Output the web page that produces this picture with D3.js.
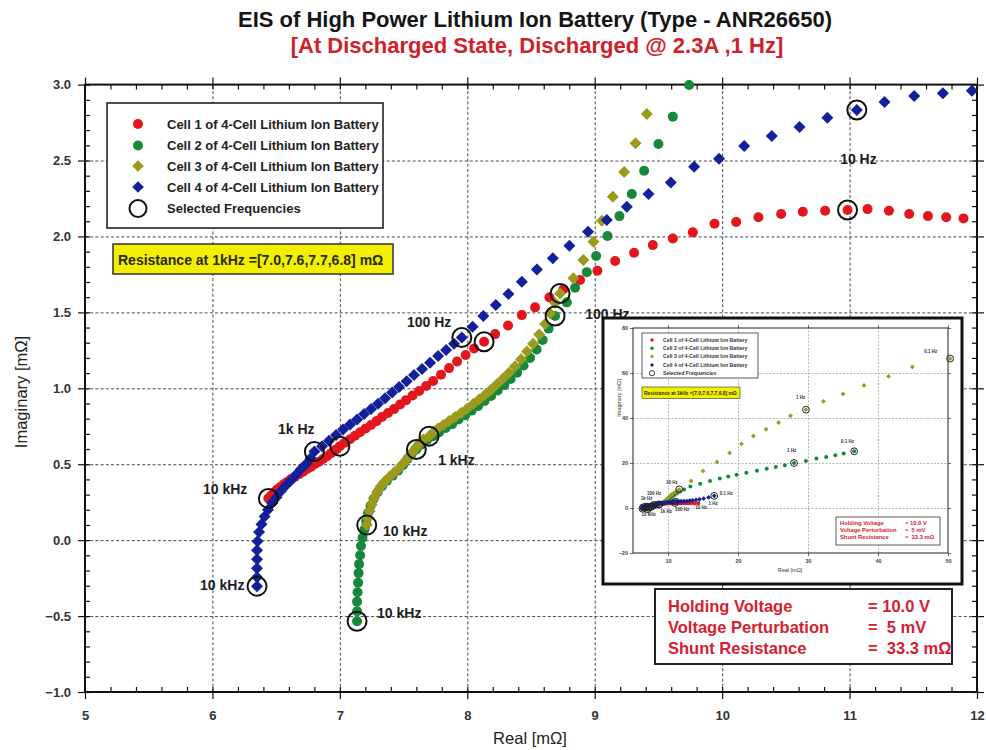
<!DOCTYPE html>
<html>
<head>
<meta charset="utf-8">
<script src="https://cdn.jsdelivr.net/npm/d3@7"></script>
<style>
  html, body { margin: 0; padding: 0; background: #fff; }
  svg { display: block; font-family: "Liberation Sans", Arial, sans-serif; }
</style>
</head>
<body>
<svg id="chart" width="986" height="750"></svg>
<script>
// ---------- data ----------
// Real part of the impedance at 1 kHz for cells 1..4 [mOhm]
const resistance1kHz = [7.0, 7.6, 7.7, 6.8];

const seriesNames = [
  "Cell 1 of 4-Cell Lithium Ion Battery",
  "Cell 2 of 4-Cell Lithium Ion Battery",
  "Cell 3 of 4-Cell Lithium Ion Battery",
  "Cell 4 of 4-Cell Lithium Ion Battery"
];

// Nyquist points [Real, Imaginary] in mOhm, high -> low frequency
const cell1 = [
  [6.439,0.275],[6.460,0.293],[6.484,0.313],[6.507,0.333],[6.535,0.352],[6.562,0.369],[6.589,0.385],
  [6.617,0.402],[6.648,0.418],[6.680,0.435],[6.711,0.451],[6.743,0.468],[6.774,0.484],[6.805,0.501],
  [6.837,0.517],[6.868,0.534],[6.900,0.553],[6.931,0.573],[6.966,0.596],[resistance1kHz[0],0.619],
  [7.041,0.642],[7.080,0.665],[7.119,0.688],[7.159,0.711],[7.202,0.735],[7.245,0.758],[7.288,0.784],
  [7.331,0.811],[7.378,0.837],[7.425,0.863],[7.473,0.893],[7.520,0.922],[7.571,0.952],[7.622,0.982],
  [7.677,1.015],[7.732,1.048],[7.794,1.090],[7.857,1.133],[7.920,1.176],[7.987,1.219],[8.053,1.262],
  [8.132,1.306],[8.218,1.357],[8.320,1.413],[8.428,1.482],[8.532,1.533],[8.645,1.599],[8.754,1.652],
  [8.885,1.713],[9.021,1.774],[9.160,1.838],[9.309,1.893],[9.456,1.943],[9.613,1.987],[9.770,2.027],
  [9.940,2.084],[10.110,2.095],[10.285,2.126],[10.463,2.148],[10.633,2.163],[10.808,2.169],[10.984,2.174],
  [11.141,2.180],[11.309,2.169],[11.468,2.148],[11.615,2.134],[11.758,2.126],[11.894,2.119]
];
const cell2 = [
  [7.135,-0.534],[7.135,-0.468],[7.135,-0.405],[7.139,-0.343],[7.143,-0.280],[7.147,-0.217],[7.151,-0.158],
  [7.159,-0.099],[7.166,-0.039],[7.178,0.016],[7.194,0.072],[7.206,0.125],[7.221,0.178],[7.241,0.227],
  [7.265,0.273],[7.296,0.316],[7.331,0.356],[7.370,0.392],[7.414,0.425],[7.457,0.458],[7.496,0.494],
  [7.531,0.534],[7.563,0.567],[resistance1kHz[1],0.597],
  [7.637,0.629],[7.684,0.659],[7.732,0.685],[7.779,0.711],[7.830,0.738],[7.881,0.764],[7.932,0.794],
  [7.983,0.823],[8.034,0.853],[8.085,0.883],[8.136,0.916],[8.187,0.949],[8.238,0.985],[8.290,1.021],
  [8.340,1.061],[8.391,1.103],[8.442,1.150],[8.493,1.199],[8.544,1.255],[8.591,1.318],[8.638,1.393],
  [8.689,1.476],[8.781,1.566],[8.846,1.662],[8.938,1.765],[9.011,1.871],[9.100,2.003],[9.194,2.134],
  [9.291,2.279],[9.388,2.433],[9.500,2.609],[9.613,2.789],[9.741,2.997]
];
const cell3 = [
  [7.211,0.099],[7.221,0.145],[7.233,0.191],[7.249,0.234],[7.268,0.277],[7.292,0.316],[7.319,0.352],
  [7.351,0.385],[7.386,0.415],[7.421,0.441],[7.457,0.468],[7.488,0.497],[7.520,0.527],[7.547,0.557],
  [7.575,0.585],[7.602,0.613],[7.626,0.639],[7.655,0.662],[resistance1kHz[2],0.685],
  [7.735,0.712],[7.770,0.735],[7.812,0.758],[7.857,0.784],[7.904,0.811],[7.951,0.837],[7.998,0.866],
  [8.046,0.896],[8.093,0.926],[8.140,0.958],[8.187,0.991],[8.234,1.028],[8.281,1.064],[8.328,1.103],
  [8.375,1.146],[8.422,1.192],[8.469,1.242],[8.516,1.294],[8.564,1.354],[8.611,1.423],[8.650,1.492],
  [8.689,1.561],[8.728,1.625],[8.833,1.724],[8.911,1.845],[8.990,1.965],[9.056,2.103],[9.142,2.262],
  [9.231,2.424],[9.320,2.613],[9.409,2.806]
];
const cell4 = [
  [6.350,-0.303],[6.350,-0.244],[6.350,-0.185],[6.350,-0.125],[6.350,-0.066],[6.354,-0.007],[6.366,0.053],
  [6.385,0.105],[6.409,0.155],[6.436,0.201],[6.468,0.244],[6.503,0.283],[6.538,0.323],[6.578,0.362],
  [6.617,0.395],[6.656,0.431],[6.695,0.468],[6.735,0.501],[6.770,0.540],[resistance1kHz[3],0.583],
  [6.860,0.619],[6.915,0.655],[6.970,0.692],[7.025,0.728],[7.080,0.761],[7.135,0.794],[7.190,0.830],
  [7.245,0.863],[7.300,0.899],[7.355,0.935],[7.410,0.972],[7.465,1.008],[7.524,1.047],[7.582,1.087],
  [7.645,1.127],[7.708,1.169],[7.771,1.212],[7.834,1.252],[7.896,1.294],[7.957,1.335],[8.042,1.406],
  [8.126,1.476],[8.224,1.548],[8.323,1.621],[8.428,1.702],[8.546,1.783],[8.671,1.856],[8.801,1.939],
  [8.948,2.031],[9.095,2.108],[9.252,2.196],[9.422,2.279],[9.597,2.356],[9.780,2.459],[9.976,2.512],
  [10.173,2.596],[10.390,2.661],[10.607,2.721],[10.826,2.782],[11.057,2.833],[11.274,2.885],[11.507,2.925],
  [11.732,2.943],[11.960,2.960]
];

// selected frequencies (10 kHz, 1 kHz, 100 Hz, 10 Hz) on each cell
const selectedPoints = [
  [6.439,0.275],[resistance1kHz[0],0.619],[8.132,1.306],[10.984,2.174],
  [7.135,-0.534],[resistance1kHz[1],0.597],[8.689,1.476],
  [7.211,0.099],[resistance1kHz[2],0.685],[8.728,1.625],
  [6.350,-0.303],[resistance1kHz[3],0.583],[7.957,1.335],[11.057,2.833]
];

// frequency annotations: text and its anchor (Real, Imaginary)
const freqLabels = [
  { text: "10 kHz", re: 5.926, im: 0.303 },
  { text: "1k Hz",  re: 6.515, im: 0.699 },
  { text: "100 Hz", re: 7.527, im: 1.403 },
  { text: "10 kHz", re: 5.903, im: -0.329 },
  { text: "1 kHz",  re: 7.771, im: 0.494 },
  { text: "10 kHz", re: 7.339, im: 0.026 },
  { text: "10 kHz", re: 7.292, im: -0.514 },
  { text: "100 Hz", re: 8.925, im: 1.456 },
  { text: "10 Hz",  re: 10.926, im: 2.477 }
];

// axis ticks
const xTicks = [5, 6, 7, 8, 9, 10, 11, 12];
const yTicks = [-1.0, -0.5, 0.0, 0.5, 1.0, 1.5, 2.0, 2.5, 3.0];

// measurement conditions
const conditionNames  = ["Holding Voltage", "Voltage Perturbation", "Shunt Resistance"];
const conditionValues = ["= 10.0 V", "=  5 mV", "=  33.3 mΩ"];

// wide-range view: low-frequency continuation of each cell
const cell1Low = [[12.15,2.11],[12.5,2.10],[12.9,2.09],[13.3,2.09],[13.8,2.11],[14.3,2.15]];
const cell2Low = [
  [9.90,3.40],[10.10,3.90],[10.35,4.50],[10.60,5.10],[10.90,5.80],[11.25,6.50],[11.70,7.30],[12.30,8.20],
  [13.2,9.6],[14.6,10.8],[16.0,12.0],[17.4,13.1],[18.6,14.0],[19.8,14.8],[21.2,15.7],[22.7,16.6],
  [24.1,17.5],[25.4,18.2],[26.7,19.0],[28.0,20.0],[29.7,20.9],[31.2,22.0],[32.6,22.7],[33.9,23.4],
  [35.1,24.2],[36.6,25.2]
];
const cell3Low = [
  [9.52,3.05],[9.65,3.40],[9.80,3.80],[9.95,4.30],[10.10,4.80],[10.30,5.40],[10.55,6.00],[10.85,6.70],
  [11.20,7.40],[11.6,8.3],[13.3,12.0],[15.0,16.5],[17.0,20.5],[18.8,24.5],[20.5,28.5],[22.2,32.0],
  [24.0,35.0],[25.8,38.0],[27.5,41.0],[29.7,43.7],[32.2,47.4],[35.0,50.7],[38.0,54.5],[41.5,58.5],
  [44.9,62.7],[50.3,66.4]
];
const cell4Low = [
  [12.3,3.00],[12.7,3.10],[13.1,3.25],[13.5,3.40],[14.0,3.60],[14.5,3.85],[15.1,4.20],[15.8,4.70],[16.6,5.40]
];
const selectedLow = [[11.6,8.3],[29.7,43.7],[50.3,66.4],[28.0,20.0],[36.6,25.2],[16.6,5.4]];
const insetFreqLabels = [
  { text: "0.1 Hz", re: 46.6, im: 68.9 },
  { text: "1 Hz",   re: 28.3, im: 48.6 },
  { text: "1 Hz",   re: 27.0, im: 24.9 },
  { text: "0.1 Hz", re: 34.7, im: 29.1 },
  { text: "10 Hz",  re: 9.7,  im: 10.8 },
  { text: "100 Hz", re: 7.0,  im: 5.6 },
  { text: "1k Hz",  re: 6.1,  im: 3.7 },
  { text: "10 kHz", re: 6.2,  im: -3.7 },
  { text: "1k Hz",  re: 8.9,  im: -2.2 },
  { text: "100 Hz", re: 11.0, im: -1.5 },
  { text: "10 Hz",  re: 13.9, im: -0.3 },
  { text: "1 Hz",   re: 15.8, im: 1.2 },
  { text: "0.1 Hz", re: 17.4, im: 5.6 }
];
const insetXTicks = [10, 20, 30, 40, 50];
const insetYTicks = [-20, 0, 20, 40, 60, 80];

// ---------- styles ----------
const colors = ["#e3151d", "#17873a", "#9b9a1c", "#13209b"];
const shapes = ["circle", "circle", "diamond", "diamond"];

// ---------- drawing ----------
const svg = d3.select("#chart");
svg.append("rect").attr("width", 986).attr("height", 750).attr("fill", "#fff");

const x = d3.scaleLinear().domain([5, 12]).range([85, 977]);
const y = d3.scaleLinear().domain([-1, 3]).range([692, 84.6]);
const [L, R] = x.range();
const [B, T] = y.range();

// grid
const grid = svg.append("g").attr("class", "grid");
grid.append("g").attr("transform", `translate(0,${B})`)
  .call(d3.axisBottom(x).tickValues(xTicks.slice(1, -1)).tickSize(-(B - T)).tickFormat(""));
grid.append("g").attr("transform", `translate(${L},0)`)
  .call(d3.axisLeft(y).tickValues(yTicks.slice(1, -1)).tickSize(-(R - L)).tickFormat(""));
grid.selectAll(".domain").remove();
grid.selectAll("line").attr("stroke", "#4a4a4a").attr("stroke-width", 1).attr("stroke-dasharray", "3,2.2");

// frame with inward minor ticks and major ticks on all sides
const frame = svg.append("g");
const xMinor = d3.range(5, 12.0001, 0.2);
const yMinor = d3.range(-1, 3.0001, 0.1);
function tickAxis(axis, tr) {
  const g = frame.append("g").attr("transform", tr).call(axis);
  g.select(".domain").remove();
  g.selectAll("line").attr("stroke", "#111").attr("stroke-width", 1.2);
  return g;
}
tickAxis(d3.axisTop(x).tickValues(xMinor).tickSize(5).tickFormat(""), `translate(0,${B})`);
tickAxis(d3.axisBottom(x).tickValues(xMinor).tickSize(5).tickFormat(""), `translate(0,${T})`);
tickAxis(d3.axisRight(y).tickValues(yMinor).tickSize(5).tickFormat(""), `translate(${L},0)`);
tickAxis(d3.axisLeft(y).tickValues(yMinor).tickSize(5).tickFormat(""), `translate(${R},0)`);
tickAxis(d3.axisTop(x).tickValues(xTicks).tickSize(7).tickFormat(""), `translate(0,${T})`);
tickAxis(d3.axisRight(y).tickValues(yTicks).tickSize(7).tickFormat(""), `translate(${R},0)`);

const xAxis = tickAxis(d3.axisBottom(x).tickValues(xTicks).tickSize(7).tickPadding(12).tickFormat(d3.format("d")), `translate(0,${B})`);
const yAxis = tickAxis(d3.axisLeft(y).tickValues(yTicks).tickSize(7).tickPadding(7).tickFormat(d3.format(".1f")), `translate(${L},0)`);
[xAxis, yAxis].forEach(g => g.selectAll("text")
  .attr("fill", "#333").style("font-size", "13px").style("font-weight", "bold")
  .style("font-family", "'Liberation Sans', Arial, sans-serif"));

frame.append("rect").attr("x", L).attr("y", T).attr("width", R - L).attr("height", B - T)
  .attr("fill", "none").attr("stroke", "#111").attr("stroke-width", 2);

// axis titles
svg.append("text").attr("x", 530).attr("y", 744).attr("text-anchor", "middle")
  .style("font-size", "16.5px").attr("fill", "#222").text("Real [mΩ]");
svg.append("text").attr("transform", "translate(27,392) rotate(-90)").attr("text-anchor", "middle")
  .style("font-size", "16.5px").attr("fill", "#222").text("Imaginary [mΩ]");

// titles
svg.append("text").attr("x", 535).attr("y", 27).attr("text-anchor", "middle")
  .style("font-size", "22px").style("font-weight", "bold").attr("fill", "#151515")
  .text("EIS of High Power Lithium Ion Battery (Type - ANR26650)");
svg.append("text").attr("x", 537).attr("y", 53).attr("text-anchor", "middle")
  .style("font-size", "22px").style("font-weight", "bold").attr("fill", "#d0202a")
  .text("[At Discharged State, Discharged @ 2.3A ,1 Hz]");

// marker helper
function drawMarkers(g, pts, sx, sy, color, shape, size) {
  if (shape === "circle") {
    g.selectAll(null).data(pts).join("circle")
      .attr("cx", d => sx(d[0])).attr("cy", d => sy(d[1])).attr("r", size)
      .attr("fill", color);
  } else {
    const side = size * Math.SQRT2;
    const sym = d3.symbol(d3.symbolSquare, side * side);
    g.selectAll(null).data(pts).join("path")
      .attr("d", sym)
      .attr("transform", d => `translate(${sx(d[0])},${sy(d[1])}) rotate(45)`)
      .attr("fill", color);
  }
}

// series
const cells = [cell1, cell2, cell3, cell4];
const dataG = svg.append("g");
cells.forEach((pts, i) => {
  drawMarkers(dataG.append("g"), pts, x, y, colors[i], shapes[i], shapes[i] === "circle" ? 5 : 6);
});

// selected frequency rings
dataG.append("g").selectAll("circle").data(selectedPoints).join("circle")
  .attr("cx", d => x(d[0])).attr("cy", d => y(d[1])).attr("r", 9.5)
  .attr("fill", "none").attr("stroke", "#111").attr("stroke-width", 2);

// frequency labels
svg.append("g").selectAll("text").data(freqLabels).join("text")
  .attr("x", d => x(d.re)).attr("y", d => y(d.im))
  .style("font-size", "14px").style("font-weight", "bold").attr("fill", "#1d1d1d")
  .text(d => d.text);

// legend
const leg = svg.append("g");
leg.append("rect").attr("x", 107).attr("y", 103).attr("width", 276).attr("height", 125)
  .attr("fill", "#fff").attr("stroke", "#222").attr("stroke-width", 1.6);
const legRows = [124, 145.5, 166, 187, 208.5];
seriesNames.forEach((name, i) => {
  const g = leg.append("g");
  drawMarkers(g, [[0, legRows[i]]], v => 138 + v, v => v, colors[i], shapes[i], shapes[i] === "circle" ? 5 : 5.8);
  leg.append("text").attr("x", 167).attr("y", legRows[i]).attr("dy", "0.36em")
    .style("font-size", "13px").style("font-weight", "bold").attr("fill", "#222").text(name);
});
leg.append("circle").attr("cx", 138).attr("cy", legRows[4]).attr("r", 8.5)
  .attr("fill", "none").attr("stroke", "#111").attr("stroke-width", 2);
leg.append("text").attr("x", 167).attr("y", legRows[4]).attr("dy", "0.36em")
  .style("font-size", "13px").style("font-weight", "bold").attr("fill", "#222").text("Selected Frequencies");

// 1 kHz resistance note
const resText = `Resistance at 1kHz =[${resistance1kHz.map(v => v.toFixed(1)).join(",")}] mΩ`;
svg.append("rect").attr("x", 113).attr("y", 244).attr("width", 280).attr("height", 30)
  .attr("fill", "#f2ef00").attr("stroke", "#333").attr("stroke-width", 1.5);
svg.append("text").attr("x", 118).attr("y", 265)
  .style("font-size", "14px").style("font-weight", "bold").attr("fill", "#2a2a10").text(resText);

// conditions box
svg.append("rect").attr("x", 655).attr("y", 589).attr("width", 297).attr("height", 75)
  .attr("fill", "#fff").attr("stroke", "#222").attr("stroke-width", 2);
conditionNames.forEach((n, i) => {
  svg.append("text").attr("x", 668).attr("y", 612 + i * 21)
    .style("font-size", "16.5px").style("font-weight", "bold").attr("fill", "#d42030").text(n);
  svg.append("text").attr("x", 868).attr("y", 612 + i * 21).attr("xml:space", "preserve")
    .style("font-size", "16.5px").style("font-weight", "bold").attr("fill", "#d42030").text(conditionValues[i]);
});

// ---------- wide-range inset ----------
const inset = svg.append("g");
inset.append("rect").attr("x", 603).attr("y", 318).attr("width", 359).attr("height", 266)
  .attr("fill", "#fff").attr("stroke", "#111").attr("stroke-width", 3);
const ix = d3.scaleLinear().domain([5, 50]).range([633, 948]);
const iy = d3.scaleLinear().domain([-20, 80]).range([553, 328]);
const [iL, iR] = ix.range();
const [iB, iT] = iy.range();

const ig = inset.append("g");
ig.append("g").attr("transform", `translate(0,${iB})`)
  .call(d3.axisBottom(ix).tickValues([10, 20, 30, 40]).tickSize(-(iB - iT)).tickFormat(""));
ig.append("g").attr("transform", `translate(${iL},0)`)
  .call(d3.axisLeft(iy).tickValues([0, 20, 40, 60]).tickSize(-(iR - iL)).tickFormat(""));
ig.selectAll(".domain").remove();
ig.selectAll("line").attr("stroke", "#9a9a9a").attr("stroke-width", 0.7).attr("stroke-dasharray", "2,1.5");

function insetAxis(axis, tr) {
  const g = inset.append("g").attr("transform", tr).call(axis);
  g.select(".domain").remove();
  g.selectAll("line").attr("stroke", "#333").attr("stroke-width", 0.7);
  g.selectAll("text").attr("fill", "#444").style("font-size", "5.5px").style("font-weight", "bold")
    .style("font-family", "'Liberation Sans', Arial, sans-serif");
  return g;
}
insetAxis(d3.axisBottom(ix).tickValues(insetXTicks).tickSize(3).tickPadding(3), `translate(0,${iB})`);
insetAxis(d3.axisLeft(iy).tickValues(insetYTicks).tickSize(3).tickPadding(2), `translate(${iL},0)`);
insetAxis(d3.axisTop(ix).tickValues(insetXTicks).tickSize(3).tickFormat(""), `translate(0,${iT})`);
insetAxis(d3.axisRight(iy).tickValues(insetYTicks).tickSize(3).tickFormat(""), `translate(${iR},0)`);
inset.append("rect").attr("x", iL).attr("y", iT).attr("width", iR - iL).attr("height", iB - iT)
  .attr("fill", "none").attr("stroke", "#222").attr("stroke-width", 1);

inset.append("text").attr("x", 790).attr("y", 572).attr("text-anchor", "middle")
  .style("font-size", "5.5px").attr("fill", "#333").text("Real [mΩ]");
inset.append("text").attr("transform", "translate(621,398) rotate(-90)").attr("text-anchor", "middle")
  .style("font-size", "5.5px").attr("fill", "#333").text("Imaginary [mΩ]");

const lowParts = [cell1Low, cell2Low, cell3Low, cell4Low];
cells.forEach((pts, i) => {
  drawMarkers(inset.append("g"), pts.concat(lowParts[i]), ix, iy, colors[i], shapes[i], shapes[i] === "circle" ? 2 : 2.4);
});
inset.append("g").selectAll("circle").data(selectedPoints.concat(selectedLow)).join("circle")
  .attr("cx", d => ix(d[0])).attr("cy", d => iy(d[1])).attr("r", 3.4)
  .attr("fill", "none").attr("stroke", "#222").attr("stroke-width", 1);
inset.append("g").selectAll("text").data(insetFreqLabels).join("text")
  .attr("x", d => ix(d.re)).attr("y", d => iy(d.im))
  .style("font-size", "4.5px").style("font-weight", "bold").attr("fill", "#333").text(d => d.text);

// inset legend
inset.append("rect").attr("x", 642).attr("y", 333).attr("width", 116).attr("height", 45)
  .attr("fill", "#fff").attr("stroke", "#333").attr("stroke-width", 0.8);
const iRows = [340, 348.3, 356.6, 364.9, 373.2];
seriesNames.forEach((name, i) => {
  drawMarkers(inset.append("g"), [[0, iRows[i]]], v => 652 + v, v => v, colors[i], shapes[i], shapes[i] === "circle" ? 1.7 : 2);
  inset.append("text").attr("x", 663).attr("y", iRows[i]).attr("dy", "0.36em")
    .style("font-size", "5.2px").style("font-weight", "bold").attr("fill", "#333").text(name);
});
inset.append("circle").attr("cx", 652).attr("cy", iRows[4]).attr("r", 2.6)
  .attr("fill", "none").attr("stroke", "#222").attr("stroke-width", 0.9);
inset.append("text").attr("x", 663).attr("y", iRows[4]).attr("dy", "0.36em")
  .style("font-size", "5.2px").style("font-weight", "bold").attr("fill", "#333").text("Selected Frequencies");

inset.append("rect").attr("x", 642).attr("y", 387).attr("width", 98).attr("height", 11.5)
  .attr("fill", "#f2ef00").attr("stroke", "#333").attr("stroke-width", 0.6);
inset.append("text").attr("x", 644).attr("y", 394.6)
  .style("font-size", "4.9px").style("font-weight", "bold").attr("fill", "#2a2a10").text(resText);

inset.append("rect").attr("x", 836).attr("y", 517).attr("width", 104).attr("height", 28)
  .attr("fill", "#fff").attr("stroke", "#333").attr("stroke-width", 0.8);
conditionNames.forEach((n, i) => {
  inset.append("text").attr("x", 840).attr("y", 524.5 + i * 7.4)
    .style("font-size", "5.8px").style("font-weight", "bold").attr("fill", "#d42030").text(n);
  inset.append("text").attr("x", 905).attr("y", 524.5 + i * 7.4).attr("xml:space", "preserve")
    .style("font-size", "5.8px").style("font-weight", "bold").attr("fill", "#d42030").text(conditionValues[i]);
});
</script>
</body>
</html>
